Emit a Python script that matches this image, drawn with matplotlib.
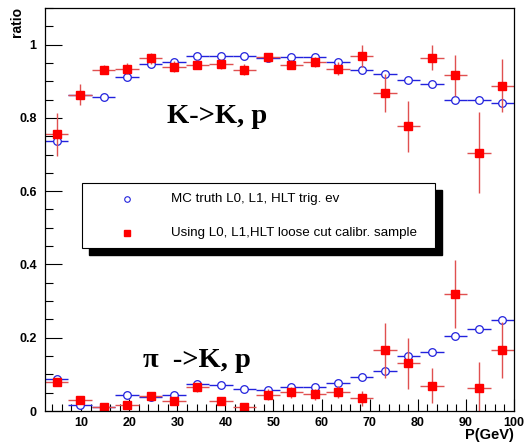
import numpy as np
import matplotlib
matplotlib.use("Agg")
import matplotlib.pyplot as plt
from matplotlib.patches import Rectangle
from matplotlib.ticker import MultipleLocator

# 20 momentum bins from 2.5 to 100 GeV
edges = np.linspace(2.5, 100, 21)
centers = 0.5 * (edges[:-1] + edges[1:])
half_w = 0.5 * (edges[1] - edges[0])

# K -> K, p
kk_mc = [0.736, 0.862, 0.858, 0.911, 0.946, 0.953, 0.969, 0.969, 0.969, 0.963,
         0.965, 0.966, 0.953, 0.931, 0.920, 0.903, 0.892, 0.848, 0.848, 0.842]
kk_mc_err = [0.004, 0.003, 0.003, 0.003, 0.003, 0.003, 0.003, 0.003, 0.003, 0.003,
             0.003, 0.004, 0.004, 0.004, 0.004, 0.004, 0.004, 0.005, 0.006, 0.006]
kk_cal = [0.755, 0.863, 0.932, 0.934, 0.963, 0.939, 0.945, 0.946, 0.931, 0.965,
          0.945, 0.953, 0.934, 0.968, 0.867, 0.777, 0.964, 0.916, 0.705, 0.888]
kk_cal_err = [0.058, 0.029, 0.013, 0.015, 0.015, 0.015, 0.012, 0.013, 0.015, 0.012,
              0.012, 0.013, 0.018, 0.030, 0.052, 0.070, 0.034, 0.057, 0.111, 0.073]

# pi -> K, p
pk_mc = [0.086, 0.016, 0.011, 0.043, 0.038, 0.043, 0.074, 0.071, 0.059, 0.057,
         0.066, 0.066, 0.077, 0.094, 0.110, 0.149, 0.161, 0.205, 0.224, 0.249]
pk_mc_err = [0.003, 0.002, 0.002, 0.002, 0.002, 0.002, 0.003, 0.003, 0.003, 0.003,
             0.003, 0.003, 0.004, 0.004, 0.004, 0.004, 0.004, 0.005, 0.006, 0.006]
pk_cal = [0.078, 0.029, 0.011, 0.016, 0.040, 0.027, 0.065, 0.026, 0.011, 0.045,
          0.051, 0.046, 0.051, 0.035, 0.166, 0.130, 0.069, 0.319, 0.063, 0.166]
pk_cal_err = [0.005, 0.007, 0.004, 0.006, 0.010, 0.007, 0.012, 0.010, 0.007, 0.015,
              0.015, 0.015, 0.016, 0.020, 0.075, 0.070, 0.048, 0.093, 0.070, 0.077]

blue = '#2222dd'
red_line = '#e05050'
red = '#ff0000'

fig = plt.figure(figsize=(5.27, 4.45), dpi=100)
ax = fig.add_axes([45/527, 34/445, 469/527, 403/445])

for mc, mce in [(kk_mc, kk_mc_err), (pk_mc, pk_mc_err)]:
    ax.errorbar(centers, mc, xerr=half_w, yerr=mce, fmt='none', ecolor=blue, elinewidth=1.0)
    ax.plot(centers, mc, 'o', ms=5.5, mfc='white', mec=blue, mew=0.9, ls='none')
for cal, cale in [(kk_cal, kk_cal_err), (pk_cal, pk_cal_err)]:
    ax.errorbar(centers, cal, xerr=half_w, yerr=cale, fmt='none', ecolor=red_line, elinewidth=1.0)
    ax.plot(centers, cal, 's', ms=5.5, mfc=red, mec=red, ls='none')

ax.set_xlim(2.5, 100)
ax.set_ylim(0, 1.1)
ax.xaxis.set_major_locator(MultipleLocator(10))
ax.xaxis.set_minor_locator(MultipleLocator(2))
ax.yaxis.set_major_locator(MultipleLocator(0.2))
ax.yaxis.set_minor_locator(MultipleLocator(0.05))
ax.set_yticks([0, 0.2, 0.4, 0.6, 0.8, 1.0])
ax.set_yticklabels(['0', '0.2', '0.4', '0.6', '0.8', '1'])
ax.tick_params(which='both', direction='in', top=False, right=False, width=0.8)
ax.tick_params(which='major', length=12, labelsize=9, pad=6)
ax.tick_params(axis='x', which='major', length=9, pad=4)
ax.tick_params(which='minor', length=6)
ax.tick_params(axis='x', which='minor', length=5)
for lab in ax.get_xticklabels() + ax.get_yticklabels():
    lab.set_fontweight('bold')
    lab.set_family('Liberation Sans')
for s in ax.spines.values():
    s.set_linewidth(0.9)

ax.text(0.26, 0.73, 'K->K, p', transform=ax.transAxes, family='Liberation Serif',
        fontweight='bold', fontsize=20.5, va='center', ha='left')
ax.text(0.21, 0.125, '\u03c0  ->K, p', transform=ax.transAxes, family='Liberation Serif',
        fontweight='bold', fontsize=20.5, va='center', ha='left')

fig.text(17/527, 1 - 22/445, 'ratio', rotation=90, ha='center', va='center',
         fontsize=10, fontweight='bold', family='Liberation Sans')
fig.text(514/527, 1 - 428/445, 'P(GeV)', ha='right', va='top',
         fontsize=10.5, fontweight='bold', family='Liberation Sans')

# legend box with a black drop shadow
def px2ax(px, py):
    return (px - 45) / 469, (411 - py) / 403

x0, y1 = px2ax(82, 183)
x1, y0 = px2ax(435, 248)
sx = 7 / 469
sy = 7 / 403
ax.add_patch(Rectangle((x0 + sx, y0 - sy), x1 - x0, y1 - y0, transform=ax.transAxes,
                       facecolor='black', edgecolor='black', zorder=5))
ax.add_patch(Rectangle((x0, y0), x1 - x0, y1 - y0, transform=ax.transAxes,
                       facecolor='white', edgecolor='black', lw=0.8, zorder=6))
mx, my1 = px2ax(127, 199)
_, my2 = px2ax(127, 233)
tx, _ = px2ax(171, 199)
ax.plot([mx], [my1], 'o', ms=4, mfc='white', mec=blue, mew=0.8, transform=ax.transAxes, zorder=7)
ax.plot([mx], [my2], 's', ms=4, mfc=red, mec=red, transform=ax.transAxes, zorder=7)
ax.text(tx, my1, 'MC truth L0, L1, HLT trig. ev', transform=ax.transAxes, fontsize=9.6,
        va='center', ha='left', family='Liberation Sans', zorder=7)
ax.text(tx, my2, 'Using L0, L1,HLT loose cut calibr. sample', transform=ax.transAxes,
        fontsize=9.6, va='center', ha='left', family='Liberation Sans', zorder=7)

fig.savefig('out.png', dpi=100)
